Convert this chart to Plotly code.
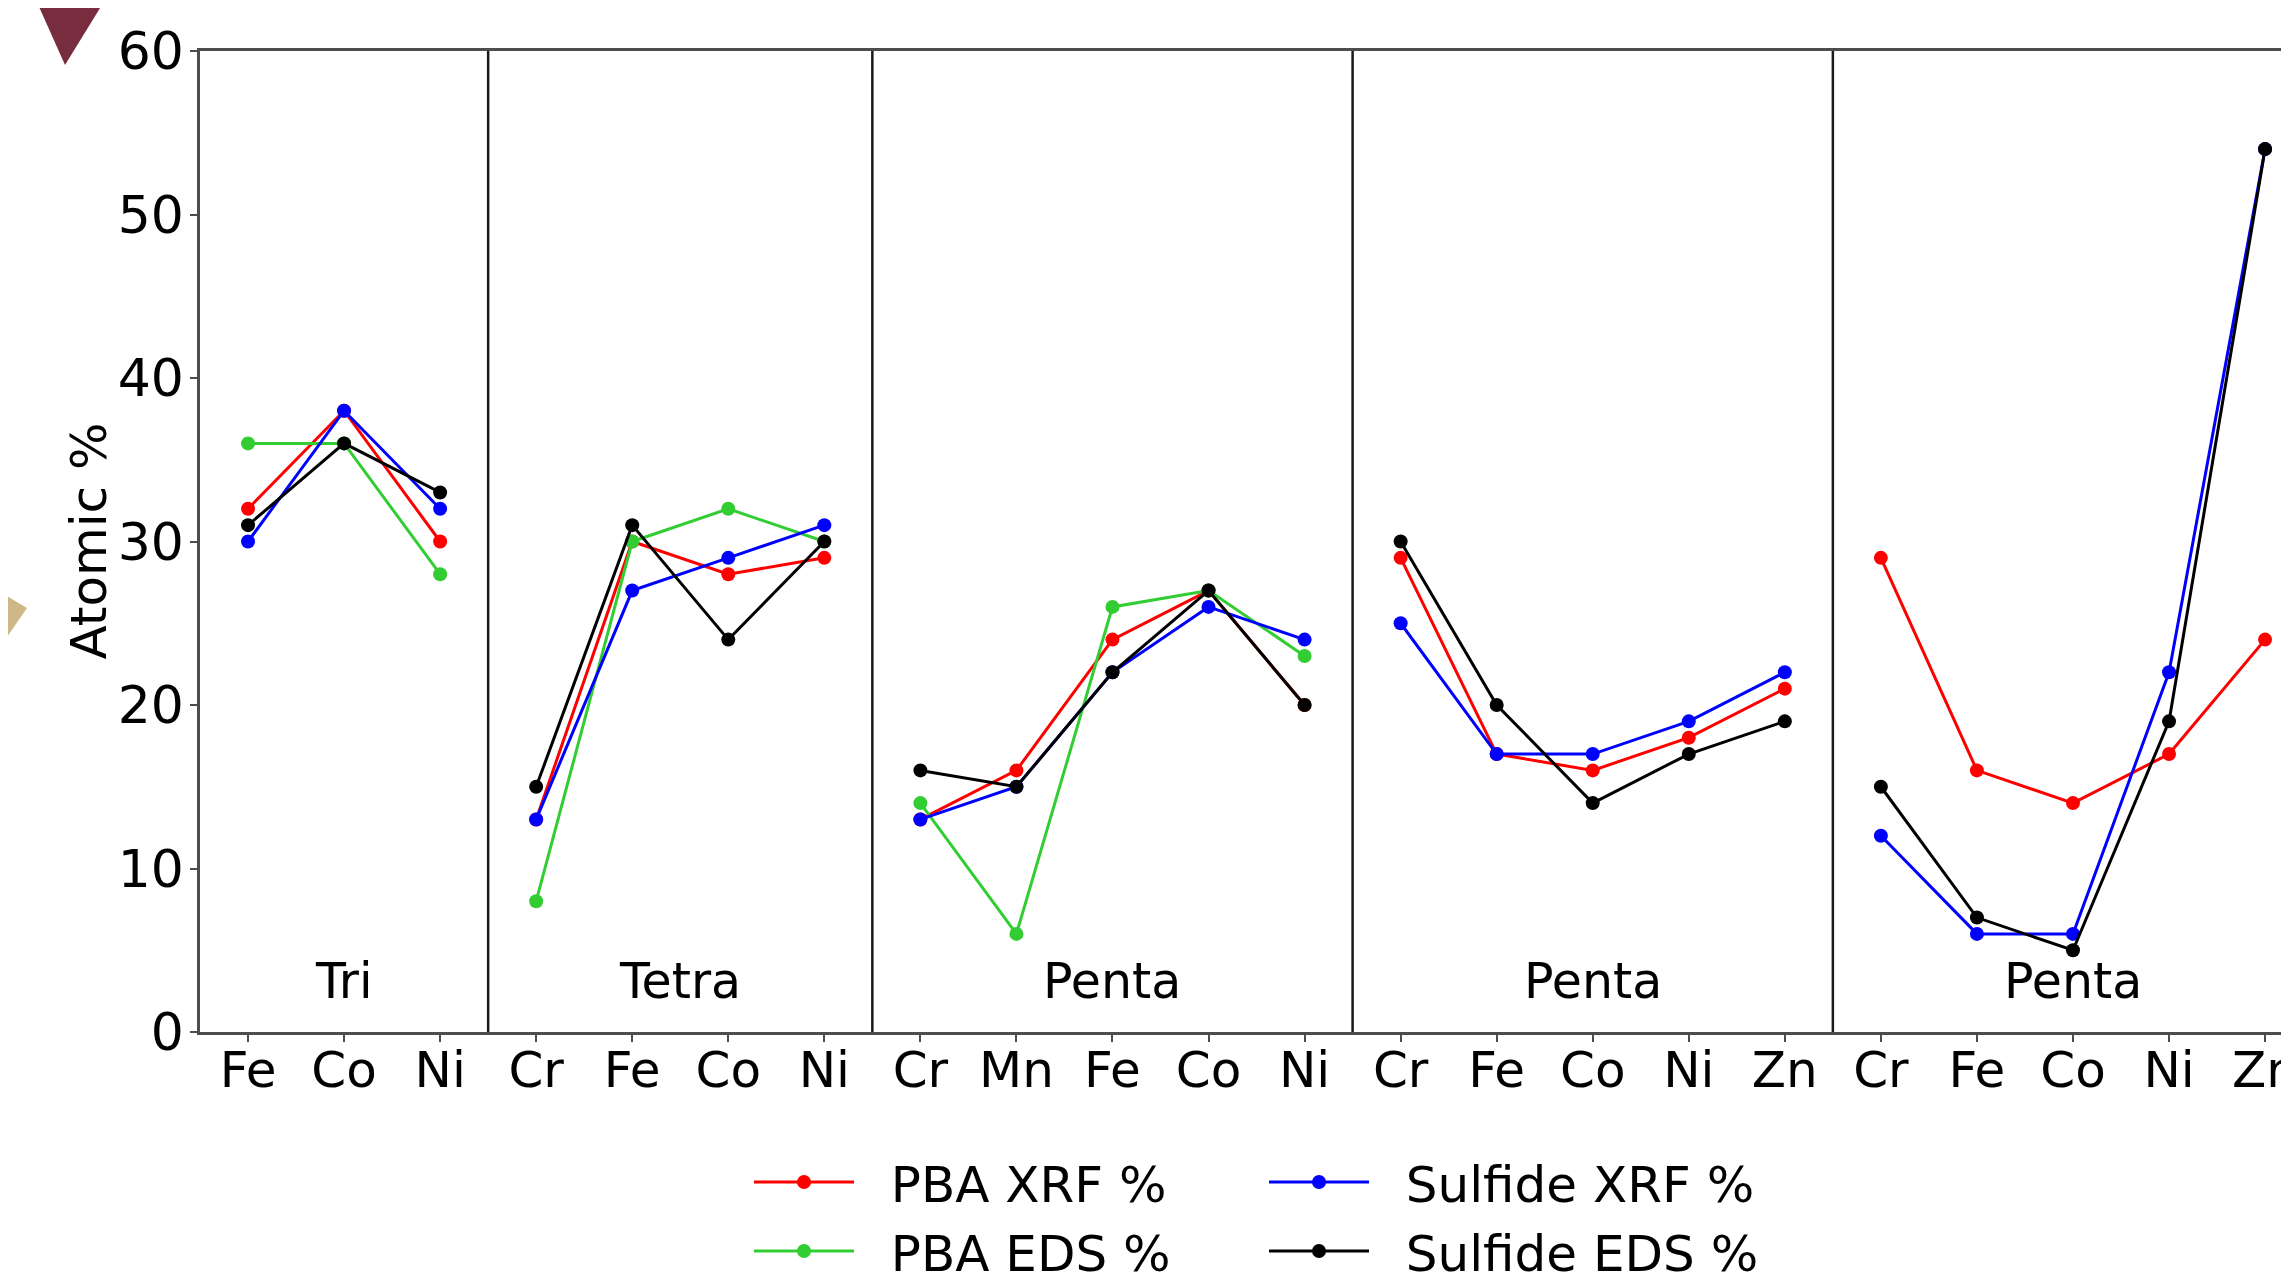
import plotly.graph_objects as go

# ---------------- data ----------------
group_names = ["Tri", "Tetra", "Penta", "Penta", "Penta"]
group_elements = [
    ["Fe", "Co", "Ni"],
    ["Cr", "Fe", "Co", "Ni"],
    ["Cr", "Mn", "Fe", "Co", "Ni"],
    ["Cr", "Fe", "Co", "Ni", "Zn"],
    ["Cr", "Fe", "Co", "Ni", "Zn"],
]
pba_xrf = [[32, 38, 30], [13, 30, 28, 29], [13, 16, 24, 27, 20],
           [29, 17, 16, 18, 21], [29, 16, 14, 17, 24]]
pba_eds = [[36, 36, 28], [8, 30, 32, 30], [14, 6, 26, 27, 23],
           [None] * 5, [None] * 5]
sulfide_xrf = [[30, 38, 32], [13, 27, 29, 31], [13, 15, 22, 26, 24],
               [25, 17, 17, 19, 22], [12, 6, 6, 22, 54]]
sulfide_eds = [[31, 36, 33], [15, 31, 24, 30], [16, 15, 22, 27, 20],
               [30, 20, 14, 17, 19], [15, 7, 5, 19, 54]]

series_names = ["PBA XRF %", "PBA EDS %", "Sulfide XRF %", "Sulfide EDS %"]
series_values = [pba_xrf, pba_eds, sulfide_xrf, sulfide_eds]
series_colors = ["#ff0000", "#32cd32", "#0000ff", "#000000"]
y_title = "Atomic %"

# ---------------- geometry ----------------
BODY = 8  # default page body margin
W, H = 2289 - BODY, 1279 - BODY
PLOT_LEFT, PLOT_TOP, PLOT_BOTTOM = 200, 51, 1032  # page pixels
ML = PLOT_LEFT - BODY
MT = PLOT_TOP - BODY
MB = H - (PLOT_BOTTOM - BODY)
MR = 0
FONT = "DejaVu Sans"
PX_PER_UNIT = 96.05


def px_to_paper(px, py):
    fx, fy = px - BODY, py - BODY
    return (fx - ML) / (W - ML - MR), (H - MB - fy) / (H - MT - MB)


def px_to_container(px, py):
    fx, fy = px - BODY, py - BODY
    return fx / W, 1 - fy / H


# flatten positions
tick_vals, tick_text, group_starts = [], [], []
pos = 0
for els in group_elements:
    group_starts.append(pos)
    for e in els:
        tick_vals.append(pos)
        tick_text.append(e)
        pos += 1

fig = go.Figure()
legend_ids = ["legend", "legend2", "legend3", "legend4"]
for name, vals, col, lg in zip(series_names, series_values, series_colors, legend_ids):
    xs, ys = [], []
    for start, grp in zip(group_starts, vals):
        for i, v in enumerate(grp):
            xs.append(start + i)
            ys.append(v)
        xs.append(None)
        ys.append(None)
    fig.add_trace(go.Scatter(
        x=xs, y=ys, name="\u00a0\u00a0" + name, mode="lines+markers",
        line=dict(color=col, width=3),
        marker=dict(color=col, size=14),
        connectgaps=False, legend=lg, showlegend=True,
    ))

# separators between groups
for start in group_starts[1:]:
    fig.add_shape(type="line", xref="x", yref="paper", x0=start - 0.5, x1=start - 0.5,
                  y0=0, y1=1, line=dict(color="#1a1a1a", width=2.5), layer="above")

# group labels
for start, els, gname in zip(group_starts, group_elements, group_names):
    fig.add_annotation(x=start + (len(els) - 1) / 2, y=3.1, xref="x", yref="y",
                       text=gname, showarrow=False,
                       font=dict(family=FONT, size=49, color="black"))

# y-axis title (rotated)
tx, _ = px_to_paper(88, 0)
fig.add_annotation(x=tx, y=0.5, xref="paper", yref="paper", text=y_title,
                   textangle=-90, showarrow=False, xanchor="center", yanchor="middle",
                   font=dict(family=FONT, size=50, color="black"))

# slide decorations (triangles)
def path_from(points):
    pts = [px_to_paper(*p) for p in points]
    return "M " + " L ".join(f"{x:.5f},{y:.5f}" for x, y in pts) + " Z"

fig.add_shape(type="path", xref="paper", yref="paper",
              path=path_from([(36, 0), (105, 0), (65, 65)]),
              fillcolor="#782d3f", line=dict(width=0), layer="above")
fig.add_shape(type="path", xref="paper", yref="paper",
              path=path_from([(0, 592), (27, 608), (0, 647)]),
              fillcolor="#cfb887", line=dict(width=0), layer="above")

axis_col = "#4d4d4d"
fig.update_xaxes(
    range=[-0.5, (W - ML - MR) / PX_PER_UNIT - 0.5], tickmode="array",
    tickvals=tick_vals, ticktext=tick_text, automargin=False,
    showgrid=False, zeroline=False, showline=True, linecolor=axis_col, linewidth=2.5,
    mirror=True, ticks="outside", ticklen=7, tickwidth=2, tickcolor=axis_col,
    tickfont=dict(family=FONT, size=50, color="black"),
    ticklabeloverflow="allow", ticklabelstandoff=-15,
)
fig.update_yaxes(
    range=[0, 60], tickvals=[0, 10, 20, 30, 40, 50, 60], automargin=False,
    showgrid=False, zeroline=False, showline=True, linecolor=axis_col, linewidth=2.5,
    ticks="outside", ticklen=7, tickwidth=2, tickcolor=axis_col,
    tickfont=dict(family=FONT, size=52, color="black"), ticklabelstandoff=-4,
)

leg_common = dict(font=dict(family=FONT, size=50, color="black"), bgcolor="rgba(0,0,0,0)",
                  itemwidth=100, xanchor="left", yanchor="middle",
                  xref="container", yref="container")
lx1, ly1 = px_to_container(755 - 6, 1182)
lx2, ly2 = px_to_container(1270 - 6, 1251)
fig.update_layout(
    width=W, height=H,
    margin=dict(l=ML, r=MR, t=MT, b=MB, autoexpand=False),
    plot_bgcolor="white", paper_bgcolor="white",
    showlegend=True,
    legend=dict(x=lx1, y=ly1, **leg_common),
    legend2=dict(x=lx1, y=ly2, **leg_common),
    legend3=dict(x=lx2, y=ly1, **leg_common),
    legend4=dict(x=lx2, y=ly2, **leg_common),
)

fig.write_html("out.html")
